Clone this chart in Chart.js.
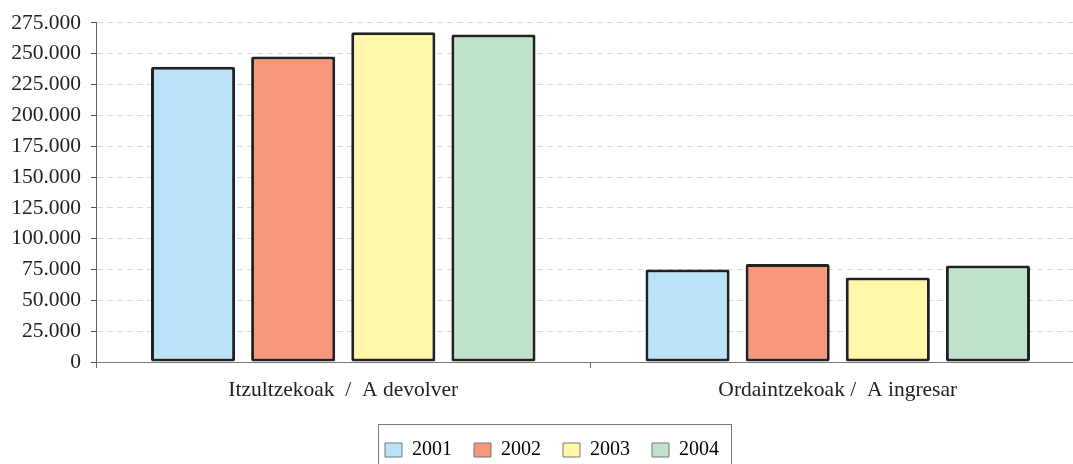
<!DOCTYPE html>
<html>
<head>
<meta charset="utf-8">
<script src="https://cdn.jsdelivr.net/npm/chart.js@4/dist/chart.umd.min.js"></script>
<style>
  html, body { margin: 0; padding: 0; background: #fff; overflow: hidden; }
  #wrap { width: 1073px; height: 464px; overflow: hidden; position: relative; }
  #box { position: absolute; left: 0; top: 0; width: 1100px; height: 470px; }
</style>
</head>
<body>
<div id="wrap"><div id="box"><canvas id="chart"></canvas></div></div>
<script>
const categories = ['Itzultzekoak  /  A devolver', 'Ordaintzekoak /  A ingresar'];
const years = ['2001', '2002', '2003', '2004'];
const values2001 = [239500, 75100];
const values2002 = [247800, 79400];
const values2003 = [267400, 68500];
const values2004 = [265500, 78300];
const yearColors = ['#b9e4f8', '#f4977a', '#fff8ab', '#c0e2cb'];

const series = [values2001, values2002, values2003, values2004];

// thousands with a dot: 275.000
const fmt = (v) => String(v).replace(/\B(?=(\d{3})+(?!\d))/g, '.');

// legend sits a bit right of the centre in the original, and has a frame
const legendFrame = {
  id: 'legendFrame',
  afterLayout(chart) {
    const lg = chart.legend;
    if (!lg) return;
    const shift = 9.5;
    lg.left += shift;
    lg.right += shift;
    lg.legendHitBoxes.forEach(b => { b.left += shift; });
  },
  afterDraw(chart) {
    const lg = chart.legend;
    if (!lg || !lg.legendHitBoxes.length) return;
    const boxes = lg.legendHitBoxes;
    const first = boxes[0];
    const last = boxes[boxes.length - 1];
    const ctx = chart.ctx;
    ctx.save();
    ctx.strokeStyle = '#7a7a7a';
    ctx.lineWidth = 1;
    ctx.strokeRect(Math.round(first.left - 7) + 0.5, Math.round(first.top - 16) + 0.5, Math.round(last.left + last.width - first.left + 19), 60);
    ctx.restore();
  }
};

new Chart(document.getElementById('chart'), {
  type: 'bar',
  data: {
    labels: categories,
    datasets: years.map((y, i) => ({
      label: y,
      data: series[i],
      backgroundColor: yearColors[i],
      borderColor: '#222',
      borderWidth: 3,
      borderRadius: 2,
      borderSkipped: false,
      categoryPercentage: 0.81,
      barPercentage: 0.84
    }))
  },
  options: {
    responsive: true,
    maintainAspectRatio: false,
    animation: false,
    layout: { padding: { left: 0, right: 15, top: 22, bottom: 0 } },
    plugins: {
      tooltip: { enabled: false },
      legend: {
        position: 'bottom',
        labels: {
          font: { family: 'Liberation Serif', size: 20 },
          color: '#222',
          boxWidth: 17,
          boxHeight: 14,
          padding: 22,
          generateLabels: (chart) => chart.data.datasets.map((ds, i) => ({
            text: ds.label,
            fillStyle: ds.backgroundColor,
            strokeStyle: '#777',
            lineWidth: 1,
            datasetIndex: i
          }))
        }
      }
    },
    scales: {
      x: {
        grid: {
          offset: true,
          drawOnChartArea: false,
          drawTicks: true,
          tickLength: 6,
          tickColor: '#666'
        },
        border: { color: '#777', width: 1 },
        ticks: {
          font: { family: 'Liberation Serif', size: 21.5 },
          color: '#222',
          padding: 9,
          maxRotation: 0
        },
        afterFit: (scale) => { scale.height = 56; }
      },
      y: {
        min: 0,
        max: 275000,
        grid: {
          color: '#d9d9d9',
          tickBorderDash: [],
          tickColor: '#555',
          tickLength: 5,
          lineWidth: 1
        },
        border: { color: '#666', width: 1, dash: [6, 4] },
        ticks: {
          stepSize: 25000,
          padding: 10,
          font: { family: 'Liberation Serif', size: 21.5 },
          color: '#222',
          callback: (v) => fmt(v)
        },
        afterFit: (scale) => { scale.width = 96; }
      }
    }
  },
  plugins: [legendFrame]
});
</script>
</body>
</html>
